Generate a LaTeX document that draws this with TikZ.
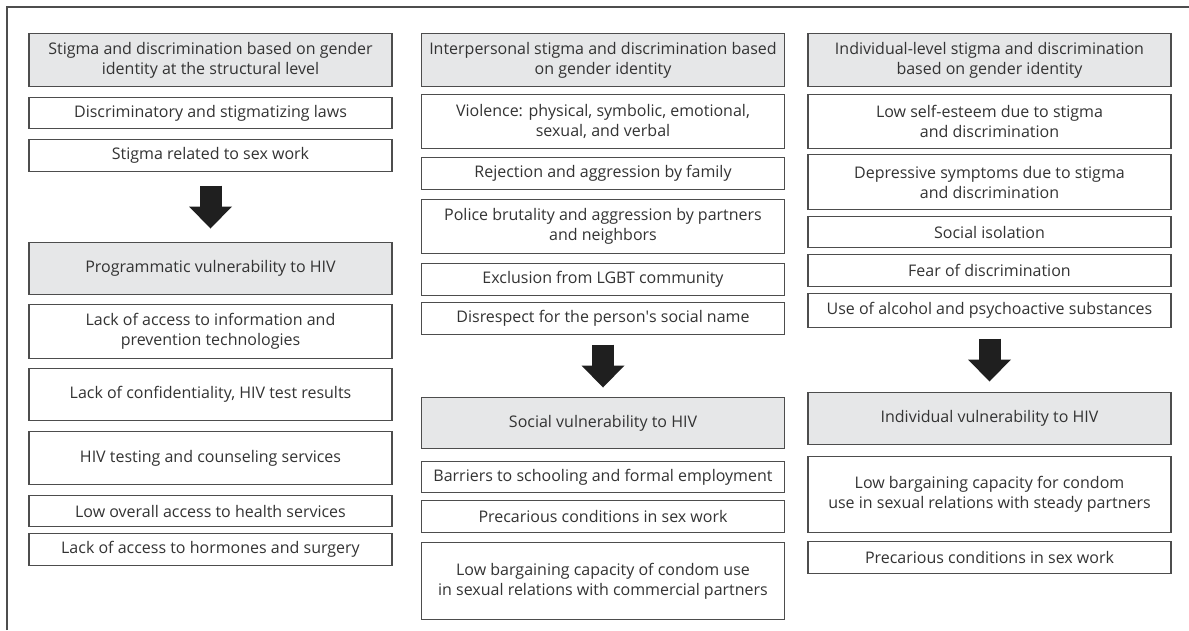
\documentclass[tikz,border=0pt]{standalone}
\usepackage{fontspec}
\setmainfont{Open Sans}
\usepackage{xcolor}
\usetikzlibrary{arrows.meta}

\definecolor{headgray}{HTML}{E6E7E8}
\definecolor{textgray}{HTML}{333333}
\definecolor{linegray}{HTML}{4D4D4D}

\tikzset{
  box/.style={draw=linegray, line width=1.2pt, text=textgray, align=center,
    minimum width=363pt, inner sep=0pt, anchor=north,
    font=\fontsize{16}{20}\selectfont},
  bigarrow/.style={draw=black!88, line width=22pt,
    -{Triangle[width=43pt,length=22pt,line width=0pt]},
    shorten <=#1, shorten >=#1},
}

\begin{document}
\begin{tikzpicture}[x=1pt,y=-1pt]
  \useasboundingbox (0,0) rectangle (1189,630);
  \draw[linegray, line width=1.3pt] (7,630) -- (7,7) -- (1189,7);

  % structural level
  \foreach \name/\fc/\top/\hgt/\txt in {
    c1h/headgray/33/53/{Stigma and discrimination based on gender\\identity at the structural level},
    c1a/white/97/31/{Discriminatory and stigmatizing laws},
    c1b/white/139/32/{Stigma related to sex work},
    c1v/headgray/242/52/{Programmatic vulnerability to HIV},
    c1c/white/304/54/{Lack of access to information and\\prevention technologies},
    c1d/white/368/52/{Lack of confidentiality, HIV test results},
    c1e/white/431/53/{HIV testing and counseling services},
    c1f/white/495/31/{Low overall access to health services},
    c1g/white/533/32/{Lack of access to hormones and surgery}} {
    \node[box, fill=\fc, minimum height=\hgt] (\name) at (210.5,\top) {\txt};
  }

  % interpersonal level
  \foreach \name/\fc/\top/\hgt/\txt in {
    c2h/headgray/33/53/{Interpersonal stigma and discrimination based\\on gender identity},
    c2a/white/94/54/{Violence: physical, symbolic, emotional,\\sexual, and verbal},
    c2b/white/157/32/{Rejection and aggression by family},
    c2c/white/199/54/{Police brutality and aggression by partners\\and neighbors},
    c2d/white/263/32/{Exclusion from LGBT community},
    c2e/white/302/32/{Disrespect for the person\textquotesingle s social name},
    c2v/headgray/397/51/{Social vulnerability to HIV},
    c2f/white/461/31/{Barriers to schooling and formal employment},
    c2g/white/500/32/{Precarious conditions in sex work},
    c2k/white/542/77/{Low bargaining capacity of condom use\\in sexual relations with commercial partners}} {
    \node[box, fill=\fc, minimum height=\hgt] (\name) at (603,\top) {\txt};
  }

  % individual level
  \foreach \name/\fc/\top/\hgt/\txt in {
    c3h/headgray/33/53/{Individual-level stigma and discrimination\\based on gender identity},
    c3a/white/94/54/{Low self-esteem due to stigma\\and discrimination},
    c3b/white/154/55/{Depressive symptoms due to stigma\\and discrimination},
    c3c/white/216/31/{Social isolation},
    c3d/white/254/32/{Fear of discrimination},
    c3e/white/293/34/{Use of alcohol and psychoactive substances},
    c3v/headgray/392/52/{Individual vulnerability to HIV},
    c3f/white/456/76/{Low bargaining capacity for condom\\use in sexual relations with steady partners},
    c3g/white/541/32/{Precarious conditions in sex work}} {
    \node[box, fill=\fc, minimum height=\hgt] (\name) at (989.5,\top) {\txt};
  }

  \draw[bigarrow=13.5pt] (c1b) -- (c1v);
  \draw[bigarrow=9.5pt] (c2e) -- (c2v);
  \draw[bigarrow=10.5pt] (c3e) -- (c3v);
\end{tikzpicture}
\end{document}
